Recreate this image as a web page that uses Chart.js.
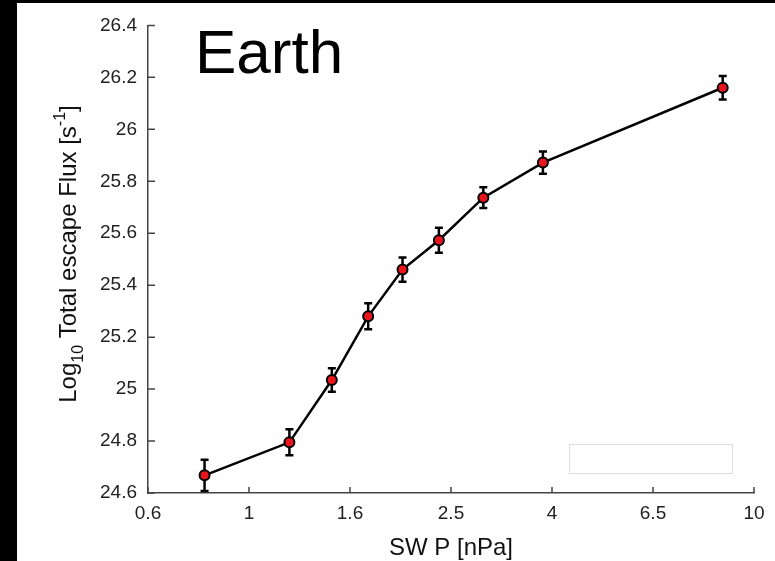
<!DOCTYPE html>
<html>
<head>
<meta charset="utf-8">
<script src="https://cdn.jsdelivr.net/npm/chart.js@4/dist/chart.umd.min.js"></script>
<style>
  html, body { margin: 0; padding: 0; background: #000; width: 775px; height: 561px; overflow: hidden; }
  #wrap { position: absolute; left: 17px; top: 3px; width: 758px; height: 558px; background: #fff; }
</style>
</head>
<body>
<div id="wrap"><canvas id="myChart"></canvas></div>
<script>
'use strict';

// tick labels on the x axis, evenly spaced (axis runs 0..6 in tick units)
const xTickLabels = ['0.6', '1', '1.6', '2.5', '4', '6.5', '10'];
// x positions of the points, in tick units
const xPos = [0.56, 1.40, 1.82, 2.18, 2.52, 2.88, 3.32, 3.91, 5.69];
// log10 total escape flux
const fluxLog = [24.668, 24.795, 25.035, 25.28, 25.46, 25.573, 25.737, 25.872, 26.16];
// half length of the error bars
const fluxErr = [0.06, 0.05, 0.045, 0.05, 0.047, 0.048, 0.04, 0.043, 0.045];

const FONT = '"Liberation Sans", Arial, Helvetica, sans-serif';

const ctx = document.getElementById('myChart').getContext('2d');

// error bars, inward ticks, empty legend box and texts
const extras = {
  id: 'extras',
  beforeDatasetsDraw(chart) {
    const c = chart.ctx;
    const x = chart.scales.x, y = chart.scales.y;
    c.save();
    c.strokeStyle = '#000';
    c.lineWidth = 2.5;
    xPos.forEach((xv, i) => {
      const px = x.getPixelForValue(xv);
      const top = y.getPixelForValue(fluxLog[i] + fluxErr[i]);
      const bot = y.getPixelForValue(fluxLog[i] - fluxErr[i]);
      c.beginPath();
      c.moveTo(px, top); c.lineTo(px, bot);
      c.moveTo(px - 4, top); c.lineTo(px + 4, top);
      c.moveTo(px - 4, bot); c.lineTo(px + 4, bot);
      c.stroke();
    });
    c.restore();
  },
  afterDraw(chart) {
    const c = chart.ctx;
    const a = chart.chartArea;
    const x = chart.scales.x, y = chart.scales.y;
    c.save();
    // inward tick marks
    c.strokeStyle = '#444';
    c.lineWidth = 1.5;
    c.beginPath();
    x.ticks.forEach(t => {
      const px = x.getPixelForValue(t.value);
      c.moveTo(px, a.bottom); c.lineTo(px, a.bottom - 6);
    });
    y.ticks.forEach(t => {
      const py = y.getPixelForValue(t.value);
      c.moveTo(a.left, py); c.lineTo(a.left + 7, py);
    });
    c.stroke();

    // empty legend box
    c.strokeStyle = '#ddd';
    c.lineWidth = 1;
    c.strokeRect(a.left + 421.5, a.bottom - 48.5, 163, 29);

    // panel title
    c.fillStyle = '#000';
    c.font = '62px ' + FONT;
    c.textAlign = 'left';
    c.textBaseline = 'alphabetic';
    c.fillText('Earth', a.left + 47, 70);

    // x axis title
    c.font = '24px ' + FONT;
    c.fillStyle = '#111';
    c.textAlign = 'center';
    c.fillText('SW P [nPa]', (a.left + a.right) / 2, 552);

    // y axis title with sub/superscripts
    const parts = [
      { t: 'Log', size: 24, dy: 0 },
      { t: '10', size: 16, dy: 7 },
      { t: ' Total escape Flux [s', size: 24, dy: 0 },
      { t: '-1', size: 16, dy: -11 },
      { t: ']', size: 24, dy: 0 }
    ];
    let total = 0;
    parts.forEach(p => { c.font = p.size + 'px ' + FONT; p.w = c.measureText(p.t).width; total += p.w; });
    c.translate(59, 251);
    c.rotate(-Math.PI / 2);
    c.textAlign = 'left';
    let cx = -total / 2;
    parts.forEach(p => {
      c.font = p.size + 'px ' + FONT;
      c.fillText(p.t, cx, p.dy);
      cx += p.w;
    });
    c.restore();
  }
};

const chartObj = {
  type: 'line',
  data: {
    datasets: [{
      data: xPos.map((xv, i) => ({ x: xv, y: fluxLog[i] })),
      borderColor: '#000',
      borderWidth: 2.5,
      backgroundColor: '#e8161c',
      pointBackgroundColor: '#e8161c',
      pointBorderColor: '#000',
      pointBorderWidth: 2,
      pointRadius: 5,
      tension: 0
    }]
  },
  options: {
    responsive: true,
    maintainAspectRatio: false,
    animation: false,
    layout: { padding: { left: 0, top: 12, right: 21, bottom: 0 } },
    plugins: { legend: { display: false }, tooltip: { enabled: false } },
    scales: {
      x: {
        type: 'linear',
        min: 0,
        max: 6,
        grid: { display: false, drawTicks: false },
        border: { display: true, color: '#444', width: 1.5 },
        ticks: {
          stepSize: 1,
          padding: 9,
          color: '#222',
          font: { family: FONT, size: 19 },
          maxRotation: 0,
          callback: v => xTickLabels[v]
        },
        afterFit: s => { s.height = 68; }
      },
      y: {
        min: 24.6,
        max: 26.4,
        grid: { display: false, drawTicks: false },
        border: { display: true, color: '#444', width: 1.5 },
        ticks: {
          stepSize: 0.2,
          padding: 11,
          color: '#222',
          font: { family: FONT, size: 19 },
          callback: v => String(Number(v.toFixed(1)))
        },
        afterFit: s => { s.width = 131; }
      }
    }
  },
  plugins: [extras]
};

const myChart = new Chart(ctx, chartObj);
</script>
</body>
</html>
